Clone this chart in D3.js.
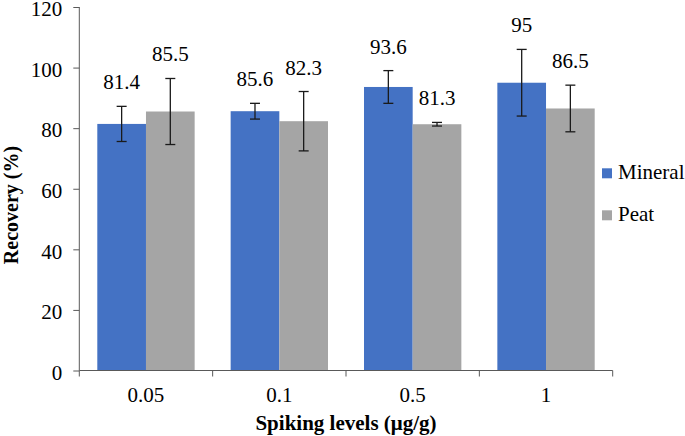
<!DOCTYPE html>
<html>
<head>
<meta charset="utf-8">
<script src="https://cdn.jsdelivr.net/npm/d3@7"></script>
<style>
  html, body { margin: 0; padding: 0; background: #fff; }
  svg text { font-family: "Times New Roman", Times, "Liberation Serif", Tinos, "Noto Serif", "Nimbus Roman", FreeSerif, "DejaVu Serif", serif; }
</style>
</head>
<body>
<svg id="chart" width="685" height="436"></svg>
<script>
const categories = ["0.05", "0.1", "0.5", "1"];
const seriesNames = ["Mineral", "Peat"];
const mineral = [81.4, 85.6, 93.6, 95];
const peat = [85.5, 82.3, 81.3, 86.5];
const mineralErr = [5.8, 2.6, 5.4, 11.0];
const peatErr = [10.9, 9.8, 0.6, 7.7];
const yTicks = [0, 20, 40, 60, 80, 100, 120];
const colors = ["#4472C4", "#A5A5A5"];

const FONT = "'Times New Roman', Times, 'Liberation Serif', Tinos, 'Noto Serif', 'Nimbus Roman', FreeSerif, 'DejaVu Serif', serif";
const svg = d3.select("#chart");
const margin = { left: 79.3, right: 612.7, top: 7, bottom: 370.5 };

const x0 = d3.scaleBand().domain(categories).range([margin.left, margin.right]).paddingInner(0).paddingOuter(0);
const x1 = d3.scaleBand().domain(seriesNames).range([18, x0.bandwidth() - 18]).padding(0);
const y = d3.scaleLinear().domain([0, 120]).range([margin.bottom, margin.top]);

const rows = categories.map((c, i) => ({
  cat: c,
  items: [
    { s: "Mineral", v: mineral[i], e: mineralErr[i], color: colors[0] },
    { s: "Peat", v: peat[i], e: peatErr[i], color: colors[1] }
  ]
}));

// bars
const groups = svg.append("g").selectAll("g").data(rows).join("g")
  .attr("transform", d => `translate(${x0(d.cat)},0)`);

groups.selectAll("rect").data(d => d.items).join("rect")
  .attr("x", d => x1(d.s))
  .attr("y", d => y(d.v))
  .attr("width", x1.bandwidth())
  .attr("height", d => y(0) - y(d.v))
  .attr("fill", d => d.color);

// error bars
const capW = 10;
const eb = groups.selectAll("g.err").data(d => d.items).join("g").attr("class", "err")
  .attr("stroke", "#1a1a1a").attr("stroke-width", 1.3);
eb.append("line")
  .attr("x1", d => x1(d.s) + x1.bandwidth() / 2).attr("x2", d => x1(d.s) + x1.bandwidth() / 2)
  .attr("y1", d => y(d.v + d.e)).attr("y2", d => y(d.v - d.e));
eb.append("line")
  .attr("x1", d => x1(d.s) + x1.bandwidth() / 2 - capW / 2).attr("x2", d => x1(d.s) + x1.bandwidth() / 2 + capW / 2)
  .attr("y1", d => y(d.v + d.e)).attr("y2", d => y(d.v + d.e));
eb.append("line")
  .attr("x1", d => x1(d.s) + x1.bandwidth() / 2 - capW / 2).attr("x2", d => x1(d.s) + x1.bandwidth() / 2 + capW / 2)
  .attr("y1", d => y(d.v - d.e)).attr("y2", d => y(d.v - d.e));

// data labels
groups.selectAll("text.lbl").data(d => d.items).join("text").attr("class", "lbl")
  .attr("x", d => x1(d.s) + x1.bandwidth() / 2)
  .attr("y", d => y(d.v + d.e) - 17)
  .attr("text-anchor", "middle")
  .attr("font-family", FONT)
  .attr("font-size", 21)
  .attr("fill", "#000")
  .text(d => d3.format("")(d.v));

// y axis
const axisColor = "#595959";
const yAxis = svg.append("g").attr("transform", `translate(${margin.left},0)`)
  .call(d3.axisLeft(y).tickValues(yTicks).tickSize(6).tickPadding(11).tickFormat(d3.format("d")));
yAxis.attr("font-family", FONT);
yAxis.select(".domain").attr("stroke", axisColor).attr("d", `M0,${margin.top}V${margin.bottom}`);
yAxis.selectAll(".tick line").attr("stroke", axisColor);
yAxis.selectAll(".tick text").attr("font-size", 21).attr("fill", "#000")
  .attr("font-family", FONT).attr("dy", "0.42em");

// x axis
const xAxisG = svg.append("g").attr("transform", `translate(0,${margin.bottom})`);
xAxisG.append("line").attr("x1", margin.left).attr("x2", margin.right).attr("y1", 0).attr("y2", 0).attr("stroke", axisColor);
const bounds = categories.map(c => x0(c)).concat([x0(categories[categories.length - 1]) + x0.bandwidth()]);
xAxisG.selectAll("line.tk").data(bounds).join("line").attr("class", "tk")
  .attr("x1", d => d).attr("x2", d => d).attr("y1", 0).attr("y2", 6).attr("stroke", axisColor);
xAxisG.selectAll("text").data(categories).join("text")
  .attr("x", d => x0(d) + x0.bandwidth() / 2)
  .attr("y", 31)
  .attr("text-anchor", "middle").attr("font-family", FONT).attr("font-size", 21).attr("fill", "#000")
  .text(d => d);

// axis titles
svg.append("text")
  .attr("x", 346)
  .attr("y", 430)
  .attr("text-anchor", "middle").attr("font-family", FONT).attr("font-size", 21).attr("font-weight", "bold").attr("fill", "#000")
  .text("Spiking levels (μg/g)");
svg.append("text")
  .attr("transform", "translate(18,205) rotate(-90)")
  .attr("text-anchor", "middle").attr("font-family", FONT).attr("font-size", 20).attr("font-weight", "bold").attr("fill", "#000")
  .text("Recovery (%)");

// legend
const legend = svg.append("g").selectAll("g").data(seriesNames).join("g")
  .attr("transform", (d, i) => `translate(602,${168.3 + i * 42})`);
legend.append("rect").attr("width", 10).attr("height", 10).attr("fill", (d, i) => colors[i]);
legend.append("text").attr("x", 16).attr("y", 11).attr("font-family", FONT).attr("font-size", 21).attr("fill", "#000").text(d => d);
</script>
</body>
</html>
